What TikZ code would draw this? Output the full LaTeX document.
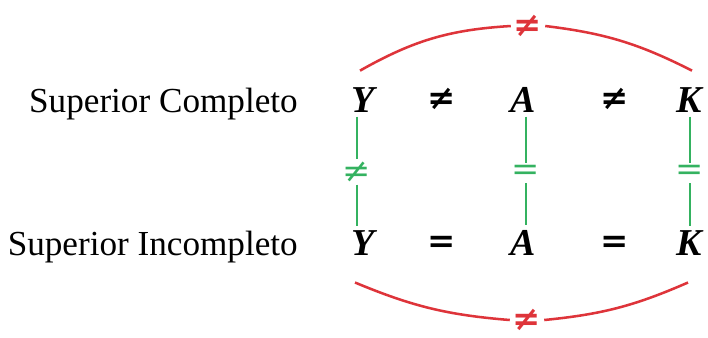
\documentclass[tikz,border=0pt]{standalone}
\usepackage{fontspec}
\setmainfont{Liberation Serif}
\newfontfamily\relfont{DejaVu Serif}
\usetikzlibrary{positioning}

\definecolor{diffred}{RGB}{222,52,58}
\definecolor{eqgreen}{RGB}{52,178,96}

\begin{document}
\begin{tikzpicture}[x=0.025cm, y=-0.025cm,
    lbl/.style={font=\fontsize{25}{30}\selectfont, inner sep=0pt, anchor=base east},
    var/.style={font=\fontsize{27}{30}\selectfont\bfseries\itshape, inner sep=3pt, anchor=base},
    rel/.style={font=\fontsize{24}{28}\selectfont\relfont\bfseries, inner sep=0pt, anchor=base},
    gsym/.style={font=\fontsize{24}{28}\selectfont\relfont, text=eqgreen, inner sep=1.5pt},
    rsym/.style={font=\fontsize{24}{28}\selectfont\relfont\bfseries, text=diffred, inner sep=2pt},
    vline/.style={draw=eqgreen, line width=2pt},
    arcline/.style={draw=diffred, line width=1.8pt}
]
\useasboundingbox (0,0) rectangle (708,337);

% --- Etiquetas ---
\node[lbl] (comp) at (298,112) {Superior Completo};
\node[lbl] (incomp) at (298,255) {Superior Incompleto};

% --- Fila superior ---
\node[var] (Y1) at (363,112) {Y};
\node[rel] (r1) at (442,109) {≠};
\node[var] (A1) at (523,112) {A};
\node[rel] (r2) at (615,109) {≠};
\node[var] (K1) at (689,112) {K};

% --- Fila inferior ---
\node[var] (Y2) at (363,255) {Y};
\node[rel] (r3) at (442,252) {=};
\node[var] (A2) at (523,255) {A};
\node[rel] (r4) at (615,252) {=};
\node[var] (K2) at (689,255) {K};

% --- Comparaciones verticales ---
\node[gsym] (ysym) at (357,172) {≠};
\node[gsym] (asym) at (526,173) {=};
\node[gsym] (ksym) at (690,173) {=};

\draw[vline] (ysym |- Y1.south) -- (ysym.north);
\draw[vline] (ysym.south) -- (ysym |- Y2.north);
\draw[vline] (asym |- A1.south) -- (asym.north);
\draw[vline] (asym.south) -- (asym |- A2.north);
\draw[vline] (ksym |- K1.south) -- (ksym.north);
\draw[vline] (ksym.south) -- (ksym |- K2.north);

% --- Arcos ---
\node[rsym] (topneq) at (528,26) {≠};
\node[rsym] (botneq) at (527,320) {≠};

\draw[arcline] ([shift={(-3,-12)}]Y1.north) to[bend left=13] (topneq.west);
\draw[arcline] (topneq.east) to[bend left=10] ([shift={(3,-12)}]K1.north);
\draw[arcline] ([shift={(-8,23)}]Y2.south) to[bend right=9] (botneq.west);
\draw[arcline] (botneq.east) to[bend right=9] ([shift={(-1,23)}]K2.south);

\end{tikzpicture}
\end{document}
